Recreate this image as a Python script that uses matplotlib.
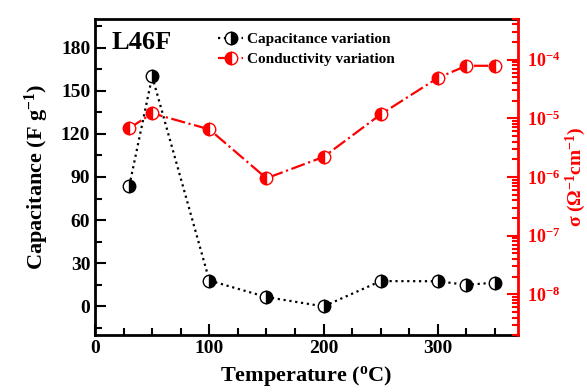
import numpy as np
import matplotlib
matplotlib.use('Agg')
import matplotlib.pyplot as plt
from matplotlib.ticker import MultipleLocator, LogLocator, NullFormatter

plt.rcParams['font.family'] = 'Liberation Serif'
plt.rcParams['font.weight'] = 'bold'
plt.rcParams['axes.labelweight'] = 'bold'
plt.rcParams['mathtext.fontset'] = 'custom'
plt.rcParams['mathtext.rm'] = 'Liberation Serif:bold'
plt.rcParams['mathtext.it'] = 'Liberation Serif:bold'
plt.rcParams['mathtext.bf'] = 'Liberation Serif:bold'

temperature = [30, 50, 100, 150, 200, 250, 300, 325, 350]
capacitance = [84, 160, 18, 6.5, 0, 17.6, 17.5, 15, 16.5]
conductivity = [6.8e-6, 1.22e-5, 6.5e-6, 9.5e-7, 2.2e-6, 1.17e-5, 4.9e-5, 7.9e-5, 7.9e-5]

fig = plt.figure(figsize=(5.87, 3.92), dpi=100)
ax = fig.add_axes([0.162, 0.145, 0.72, 0.807])
ax2 = ax.twinx()

l1, = ax.plot(temperature, capacitance, ':', color='black', lw=1.6,
              marker='o', ms=9, fillstyle='right', markerfacecolor='black',
              markerfacecoloralt='white', markeredgecolor='black', mew=1,
              label='Capacitance variation')
l2, = ax2.plot(temperature, conductivity, '-.', color='red', lw=1.6,
               marker='o', ms=9, fillstyle='left', markerfacecolor='red',
               markerfacecoloralt='white', markeredgecolor='red', mew=1,
               label='Conductivity variation')

ax.set_xlim(0, 370)
ax.set_ylim(-20, 200)
ax.set_yticks(np.arange(0, 181, 30))
ax.xaxis.set_minor_locator(MultipleLocator(25))
ax.yaxis.set_minor_locator(MultipleLocator(15))
ax.tick_params(which='both', direction='in', top=False, labelsize=14, width=1.5)
ax.tick_params(which='major', length=8)
ax.tick_params(which='minor', length=5)

ax2.set_yscale('log')
ax2.set_ylim(2e-9, 5e-4)
ax2.yaxis.set_major_locator(LogLocator(base=10, numticks=10))
ax2.yaxis.set_minor_locator(LogLocator(base=10, subs=np.arange(2, 10), numticks=20))
ax2.yaxis.set_minor_formatter(NullFormatter())
ax2.tick_params(which='both', direction='in', colors='red', labelsize=13, width=1.5, pad=7)
ax2.tick_params(which='major', length=8)
ax2.tick_params(which='minor', length=4)

for s in ['left', 'bottom', 'top']:
    ax.spines[s].set_linewidth(2)
ax2.spines['right'].set_color('red')
ax2.spines['right'].set_linewidth(2)
for s in ['left', 'bottom', 'top']:
    ax2.spines[s].set_visible(False)

ax.set_xlabel('Temperature ($^{\\mathregular{o}}$C)', fontsize=16, labelpad=5)
ax.set_ylabel('Capacitance (F g$^{\\mathregular{-1}}$)', fontsize=16, labelpad=7)
fig.text(576 / 587, 0.55, 'σ (Ω$^{\\mathregular{-1}}$cm$^{\\mathregular{-1}}$)',
         fontsize=14, fontweight='bold', color='red', rotation=90,
         ha='center', va='center')

ax.text(0.04, 0.96, 'L46F', transform=ax.transAxes, fontsize=19,
        fontweight='bold', va='top', ha='left')

ax.legend([l1, l2], [l1.get_label(), l2.get_label()], loc='upper left',
          bbox_to_anchor=(0.27, 0.985), frameon=False, fontsize=11,
          handlelength=1.6, handletextpad=0.3, borderaxespad=0.2, labelspacing=0.4)

fig.savefig('out.png', dpi=100)
